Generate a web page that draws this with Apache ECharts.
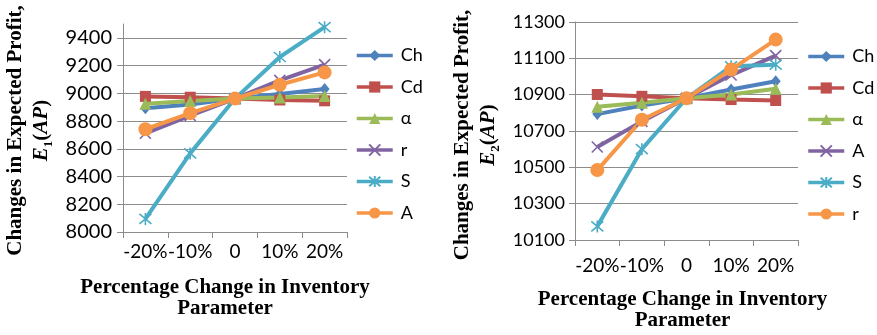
<!DOCTYPE html>
<html>
<head>
<meta charset="utf-8">
<script src="https://cdn.jsdelivr.net/npm/echarts@6/dist/echarts.min.js"></script>
<style>
  html, body { margin: 0; padding: 0; background: #fff; }
  #c1 { position: absolute; left: 0; top: 0; width: 440px; height: 335px; }
  #c2 { position: absolute; left: 440px; top: 0; width: 437px; height: 335px; }
</style>
</head>
<body>
<div id="c1"></div>
<div id="c2"></div>
<script>
// ---- data ----
const categories = ['-20%', '-10%', '0', '10%', '20%'];

// Left chart: E1(AP)
const left_Ch    = [8892, 8920, 8962, 8995, 9031];
const left_Cd    = [8978, 8972, 8962, 8952, 8946];
const left_alpha = [8925, 8945, 8962, 8970, 8980];
const left_r     = [8712, 8840, 8962, 9093, 9207];
const left_S     = [8094, 8567, 8962, 9262, 9477];
const left_A     = [8741, 8857, 8962, 9062, 9151];
const leftNames  = ['Ch', 'Cd', 'α', 'r', 'S', 'A'];

// Right chart: E2(AP)
const right_Ch    = [10793, 10840, 10880, 10928, 10974];
const right_Cd    = [10901, 10891, 10880, 10873, 10868];
const right_alpha = [10833, 10855, 10880, 10901, 10932];
const right_A     = [10612, 10753, 10880, 11008, 11115];
const right_S     = [10175, 10600, 10880, 11056, 11065];
const right_r     = [10485, 10762, 10880, 11038, 11203];
const rightNames  = ['Ch', 'Cd', 'α', 'A', 'S', 'r'];

// ---- styles ----
const BLUE = '#4F81BD', RED = '#C0504D', GREEN = '#9BBB59', PURPLE = '#8064A2', TEAL = '#4BACC6', ORANGE = '#F79646';
const X_PATH = 'path://M0,0 L10,10 M10,0 L0,10';
const STAR_PATH = 'path://M0,0 L10,10 M10,0 L0,10 M5,-1 L5,11';
const GRID = '#8c8c8c';
const LABEL_FONT = 'Lato';

function mk(name, data, color, symbol, size, stroke) {
  const s = {
    name: name, type: 'line', data: data,
    symbol: symbol, symbolSize: size,
    lineStyle: { color: color, width: 4 },
    itemStyle: { color: color },
    emphasis: { disabled: true },
    z: 2
  };
  if (stroke) {
    s.itemStyle = { color: 'rgba(0,0,0,0)', borderColor: color, borderWidth: 1.6 };
  }
  return s;
}

function axisCommon() {
  return {
    axisLine: { show: true, lineStyle: { color: GRID, width: 1 } },
    axisTick: { show: true, length: 6, lineStyle: { color: GRID } },
    axisLabel: { color: '#000', fontFamily: LABEL_FONT, fontSize: 18 }
  };
}

function buildOption(cfg) {
  const xa = axisCommon();
  xa.type = 'category'; xa.data = categories; xa.boundaryGap = true;
  xa.axisTick.alignWithLabel = false;
  xa.axisLabel.margin = cfg.xLabelMargin;
  xa.axisLabel.fontSize = 19;
  xa.axisLabel.interval = 0;
  xa.splitLine = { show: false };
  const ya = axisCommon();
  ya.type = 'value'; ya.min = cfg.min; ya.max = cfg.max; ya.interval = 200;
  ya.axisLabel.margin = cfg.yLabelMargin;
  ya.axisLabel.fontSize = cfg.yFont;
  ya.axisLabel.showMaxLabel = cfg.showMax;
  ya.axisLabel.formatter = function (v) { return String(v); };
  ya.splitLine = { show: true, showMaxLine: cfg.showMax, lineStyle: { color: GRID, width: 1 } };
  return {
    animation: false,
    backgroundColor: '#fff',
    grid: cfg.grid,
    xAxis: xa,
    yAxis: ya,
    legend: {
      orient: 'vertical', left: cfg.legendLeft, top: cfg.legendTop,
      padding: 0,
      itemWidth: 36, itemHeight: 14, itemGap: 13.5,
      data: cfg.names,
      lineStyle: { width: 3.5 },
      textStyle: { fontFamily: LABEL_FONT, fontSize: 18, color: '#000', lineHeight: 18, padding: [0, 0, 0, 3] },
      selectedMode: false
    },
    series: cfg.series,
    graphic: cfg.graphic
  };
}

const titleRich = {
  b: { fontFamily: 'Liberation Serif', fontWeight: 'bold', fontSize: 21, lineHeight: 26, fill: '#000' },
  i: { fontFamily: 'Liberation Serif', fontWeight: 'bold', fontStyle: 'italic', fontSize: 21, lineHeight: 26, fill: '#000' },
  sub: { fontFamily: 'Liberation Serif', fontWeight: 'bold', fontSize: 13, lineHeight: 26, verticalAlign: 'bottom', fill: '#000' }
};

function yTitle(x, y, idx) {
  return {
    type: 'text', x: x, y: y, rotation: Math.PI / 2,
    style: {
      text: '{b|Changes in Expected Profit,}\n{i|E}{sub|' + idx + '}{b|(}{i|AP}{b|)}',
      rich: titleRich,
      align: 'center', verticalAlign: 'middle'
    }
  };
}
function xTitle(x, y) {
  return {
    type: 'text', x: x, y: y,
    style: {
      text: 'Percentage Change in Inventory\nParameter',
      font: 'bold 21px "Liberation Serif"', lineHeight: 21,
      fill: '#000', align: 'center', verticalAlign: 'middle'
    }
  };
}

const c1 = echarts.init(document.getElementById('c1'), null, { renderer: 'canvas' });
c1.setOption(buildOption({
  min: 8000, max: 9500, showMax: false, yFont: 20,
  grid: { left: 123, right: 93, top: 24, bottom: 103 },
  xLabelMargin: 10, yLabelMargin: 11,
  legendLeft: 355, legendTop: 46.5,
  names: leftNames,
  series: [
    mk('Ch', left_Ch, BLUE, 'diamond', [10, 12]),
    mk('Cd', left_Cd, RED, 'rect', 11),
    mk('α', left_alpha, GREEN, 'triangle', 12),
    mk('r', left_r, PURPLE, X_PATH, 11, true),
    mk('S', left_S, TEAL, STAR_PATH, 12, true),
    mk('A', left_A, ORANGE, 'circle', 14)
  ],
  graphic: [yTitle(29, 130.5, 1), xTitle(225, 298)]
}));

const c2 = echarts.init(document.getElementById('c2'), null, { renderer: 'canvas' });
c2.setOption(buildOption({
  min: 10100, max: 11300, showMax: true, yFont: 18,
  grid: { left: 135, right: 79, top: 22, bottom: 95 },
  xLabelMargin: 16, yLabelMargin: 10,
  legendLeft: 366.5, legendTop: 47.5,
  names: rightNames,
  series: [
    mk('Ch', right_Ch, BLUE, 'diamond', [10, 12]),
    mk('Cd', right_Cd, RED, 'rect', 11),
    mk('α', right_alpha, GREEN, 'triangle', 12),
    mk('A', right_A, PURPLE, X_PATH, 11, true),
    mk('S', right_S, TEAL, STAR_PATH, 12, true),
    mk('r', right_r, ORANGE, 'circle', 14)
  ],
  graphic: [yTitle(476 - 440, 135, 2), xTitle(682.5 - 440, 310)]
}));
</script>
</body>
</html>
